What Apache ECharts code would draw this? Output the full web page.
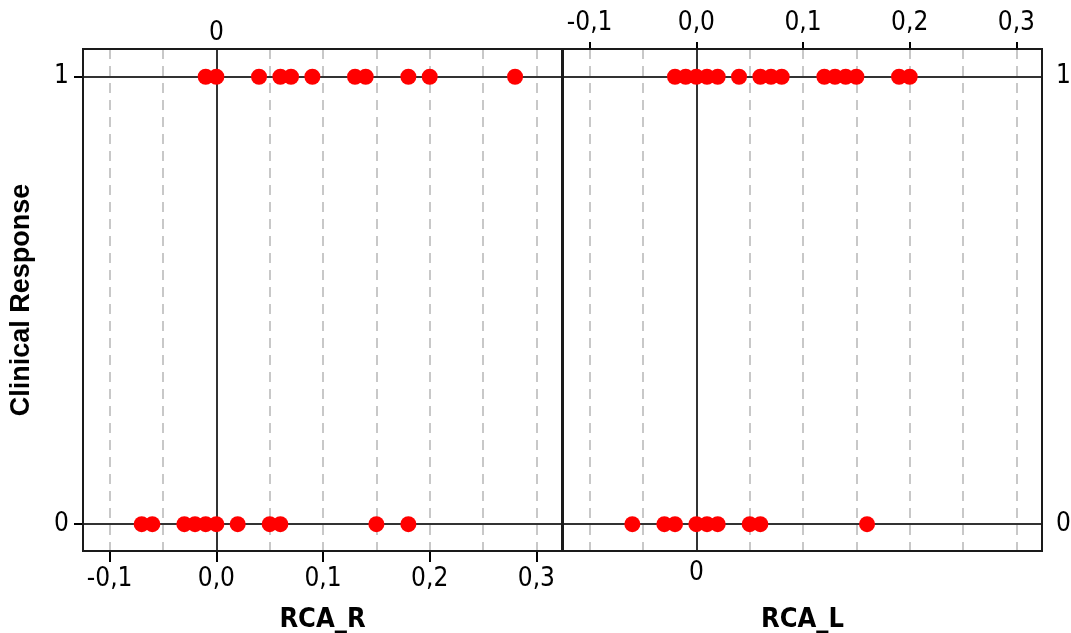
<!DOCTYPE html>
<html>
<head>
<meta charset="utf-8">
<script src="https://cdn.jsdelivr.net/npm/echarts@6/dist/echarts.min.js"></script>
<style>
  html, body { margin: 0; padding: 0; background: #fff; }
  #chart { width: 1071px; height: 633px; }
</style>
</head>
<body>
<div id="chart"></div>
<script>
// valores (Clinical Response 0 / 1)
const rcaR_resp1 = [-0.01, 0.0, 0.04, 0.06, 0.07, 0.09, 0.13, 0.14, 0.18, 0.2, 0.28];
const rcaR_resp0 = [-0.07, -0.06, -0.03, -0.02, -0.01, 0.0, 0.02, 0.05, 0.06, 0.15, 0.18];
const rcaL_resp1 = [-0.02, -0.01, 0.0, 0.01, 0.02, 0.04, 0.06, 0.07, 0.08, 0.12, 0.13, 0.14, 0.15, 0.19, 0.2];
const rcaL_resp0 = [-0.06, -0.03, -0.02, 0.0, 0.01, 0.02, 0.05, 0.06, 0.16];

const xTicks = [-0.1, 0.0, 0.1, 0.2, 0.3];
const yTicks = [0, 1];
const xNames = ["RCA_R", "RCA_L"];
const yName = "Clinical Response";

const X_MIN = -0.125, X_MAX = 0.324;
const Y_MIN = -0.06, Y_MAX = 1.062;

const FONT = "'DejaVu Sans Condensed', 'DejaVu Sans', sans-serif";
const decimal = (v) => v.toFixed(1).replace(".", ",");

const contenedor = document.getElementById("chart");
const myChart = echarts.init(contenedor);

const labelStyle = { color: "#000", fontSize: 26, fontFamily: FONT };
const nameStyle = { color: "#000", fontSize: 27, fontWeight: "bold", fontFamily: FONT };

function xBase(gridIndex, position) {
  return {
    type: "value",
    gridIndex: gridIndex,
    position: position,
    min: X_MIN,
    max: X_MAX,
    axisLine: { show: false, onZero: false },
    splitLine: { show: false },
  };
}

// eje con etiquetas -0,1 ... 0,3
function xLabelled(gridIndex, position, tickLen, margin) {
  return Object.assign(xBase(gridIndex, position), {
    axisTick: { show: true, customValues: xTicks, length: tickLen, lineStyle: { color: "#000", width: 2 } },
    axisLabel: { customValues: xTicks, formatter: decimal, margin: margin, ...labelStyle },
  });
}

// eje con solo el "0" y las lineas punteadas
function xZero(gridIndex, position, margin) {
  return Object.assign(xBase(gridIndex, position), {
    splitNumber: 9,
    axisTick: { show: false },
    axisLabel: { customValues: [0], formatter: () => "0", margin: margin, ...labelStyle },
    splitLine: { show: true, lineStyle: { color: "#c8c8c8", width: 2, type: [10, 7] } },
  });
}

const xAxes = [
  Object.assign(xLabelled(0, "bottom", 11, 15), {
    name: xNames[0], nameLocation: "middle", nameGap: 55, nameTextStyle: nameStyle,
  }),
  xZero(0, "top", 3),
  xLabelled(1, "top", 7, 13),
  Object.assign(xZero(1, "bottom", 9), {
    name: xNames[1], nameLocation: "middle", nameGap: 55, nameTextStyle: nameStyle,
  }),
];

const yAxes = [
  {
    type: "value", gridIndex: 0, position: "left", min: Y_MIN, max: Y_MAX,
    axisLine: { show: false, onZero: false },
    axisTick: { show: true, customValues: yTicks, length: 9, lineStyle: { color: "#000", width: 2 } },
    axisLabel: { customValues: yTicks, margin: 14, ...labelStyle },
    splitLine: { show: false },
    name: yName, nameLocation: "middle", nameGap: 48,
    nameTextStyle: { color: "#000", fontSize: 27, fontWeight: "bold", fontFamily: "'Liberation Sans', Arial, sans-serif" },
  },
  {
    type: "value", gridIndex: 1, position: "right", min: Y_MIN, max: Y_MAX,
    axisLine: { show: false, onZero: false },
    axisTick: { show: false, customValues: yTicks },
    axisLabel: { customValues: yTicks, margin: 14, ...labelStyle },
    splitLine: { show: false },
  },
];

const refLines = (gridIndex) => ({
  type: "line",
  xAxisIndex: gridIndex === 0 ? 0 : 2,
  yAxisIndex: gridIndex,
  data: [],
  z: 1,
  silent: true,
  markLine: {
    z: 1,
    silent: true,
    symbol: "none",
    animation: false,
    label: { show: false },
    lineStyle: { color: "#333", width: 2, type: "solid" },
    data: [{ yAxis: 0 }, { yAxis: 1 }, { xAxis: 0 }],
  },
});

const dots = (gridIndex, resp0, resp1) => ({
  type: "scatter",
  xAxisIndex: gridIndex === 0 ? 0 : 2,
  yAxisIndex: gridIndex,
  z: 3,
  symbolSize: 16,
  itemStyle: { color: "#ff0000", opacity: 1 },
  data: resp1.map((v) => [v, 1]).concat(resp0.map((v) => [v, 0])),
});

var option = {
  animation: false,
  backgroundColor: "#fff",
  grid: [
    { left: 83, top: 49, width: 479, height: 502, outerBoundsMode: "none", containLabel: false,
      show: true, borderColor: "#1a1a1a", borderWidth: 2, z: 10 },
    { left: 563, top: 49, width: 479, height: 502, outerBoundsMode: "none", containLabel: false,
      show: true, borderColor: "#1a1a1a", borderWidth: 2, z: 10 },
  ],
  xAxis: xAxes,
  yAxis: yAxes,
  series: [
    refLines(0),
    refLines(1),
    dots(0, rcaR_resp0, rcaR_resp1),
    dots(1, rcaL_resp0, rcaL_resp1),
  ],
};

myChart.setOption(option);
</script>
</body>
</html>
